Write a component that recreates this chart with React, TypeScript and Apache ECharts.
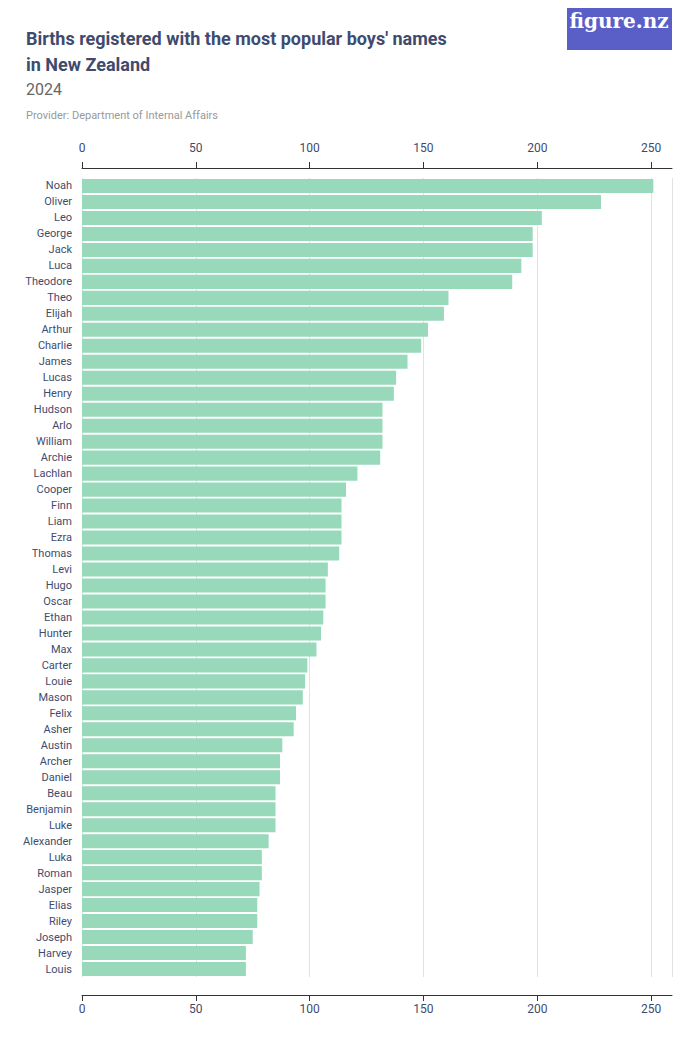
import React, { useEffect, useRef } from 'react'
import * as echarts from 'echarts'

const names = ['Noah', 'Oliver', 'Leo', 'George', 'Jack', 'Luca', 'Theodore', 'Theo', 'Elijah', 'Arthur', 'Charlie', 'James', 'Lucas', 'Henry', 'Hudson', 'Arlo', 'William', 'Archie', 'Lachlan', 'Cooper', 'Finn', 'Liam', 'Ezra', 'Thomas', 'Levi', 'Hugo', 'Oscar', 'Ethan', 'Hunter', 'Max', 'Carter', 'Louie', 'Mason', 'Felix', 'Asher', 'Austin', 'Archer', 'Daniel', 'Beau', 'Benjamin', 'Luke', 'Alexander', 'Luka', 'Roman', 'Jasper', 'Elias', 'Riley', 'Joseph', 'Harvey', 'Louis']
const births = [251, 228, 202, 198, 198, 193, 189, 161, 159, 152, 149, 143, 138, 137, 132, 132, 132, 131, 121, 116, 114, 114, 114, 113, 108, 107, 107, 106, 105, 103, 99, 98, 97, 94, 93, 88, 87, 87, 85, 85, 85, 82, 79, 79, 78, 77, 77, 75, 72, 72]

const FONT = '"Liberation Sans Narrow", "Roboto", sans-serif'
const INK = '#3f4b6e'

export default function App() {
  const ref = useRef<HTMLDivElement | null>(null)

  useEffect(() => {
    if (!ref.current) return
    const chart = echarts.init(ref.current, null, { renderer: 'svg' })
    const xAxisBase = (position: string) => ({
      type: 'value',
      position,
      offset: position === 'top' ? 10 : 18,
      min: 0,
      max: 259.2,
      interval: 50,
      axisLine: { show: true, lineStyle: { color: '#333' } },
      axisTick: { show: true, length: 6, lineStyle: { color: '#333' } },
      axisLabel: { color: INK, fontSize: 12, fontFamily: FONT, showMaxLabel: false, margin: position === 'top' ? 14 : 8 },
      splitLine: { show: position === 'top', lineStyle: { color: '#e2e2e2' } },
    })
    chart.setOption({
      animation: false,
      title: [
        { text: "Births registered with the most popular boys' names\nin New Zealand", left: 13, top: 12, textStyle: { fontSize: 18, fontWeight: 'bold', color: INK, fontFamily: FONT, lineHeight: 26 } },
        { text: '2024', left: 13, top: 68, textStyle: { fontSize: 16, fontWeight: 'normal', color: '#666', fontFamily: FONT } },
        { text: 'Provider: Department of Internal Affairs', left: 13, top: 97, textStyle: { fontSize: 11, fontWeight: 'normal', color: '#999', fontFamily: FONT } },
      ],
      graphic: [
        { type: 'rect', x: 559, y: -8, shape: { width: 105, height: 50 }, style: { fill: '#5a5fc8' } },
        { type: 'text', x: 611, y: 13, style: { text: 'figure.nz', fill: '#fff', fontSize: 20, fontWeight: 'bold', fontFamily: 'DejaVu Serif, serif', align: 'center', verticalAlign: 'middle' } },
      ],
      grid: { left: 74, right: 20, top: 170, bottom: 65 },
      xAxis: [xAxisBase('top'), xAxisBase('bottom')],
      yAxis: {
        type: 'category',
        data: names,
        inverse: true,
        axisLine: { show: false },
        axisTick: { show: false },
        axisLabel: { color: INK, fontSize: 11, fontFamily: FONT, margin: 10 },
      },
      series: [{
        type: 'bar',
        data: births,
        barCategoryGap: '12%',
        itemStyle: { color: '#98d8bb' },
      }],
    } as any)
    return () => chart.dispose()
  }, [])

  return <div ref={ref} style={{ width: 684, height: 1034 }} />
}
